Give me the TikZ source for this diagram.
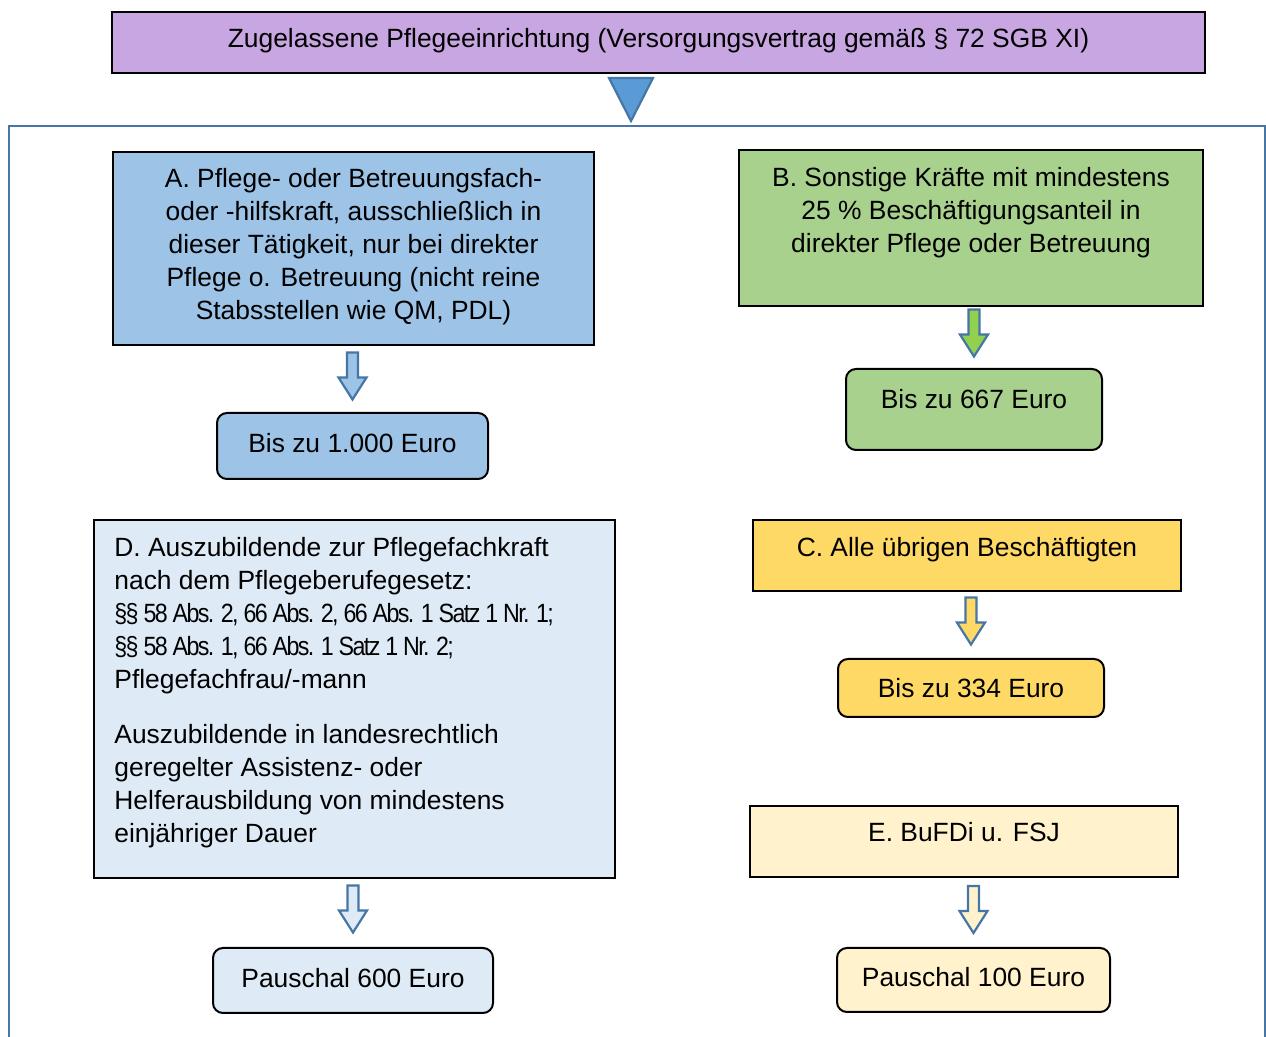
\documentclass[tikz,border=0pt]{standalone}
\usepackage{fontspec}
\setmainfont{Liberation Sans}
\usepackage{tikz}
\usetikzlibrary{shapes, arrows.meta, positioning, calc}

\definecolor{lila}{RGB}{200,166,226}
\definecolor{rahmenblau}{RGB}{70,118,166}
\definecolor{hellblau}{RGB}{157,195,230}
\definecolor{gruen}{RGB}{169,209,142}
\definecolor{pfeilgruen}{RGB}{146,208,80}
\definecolor{gelb}{RGB}{255,217,102}
\definecolor{creme}{RGB}{255,242,204}
\definecolor{eisblau}{RGB}{222,235,247}
\definecolor{dreieckblau}{RGB}{91,155,213}
\newcommand{\knapp}{\addfontfeature{FakeStretch=0.88, LetterSpace=-6}}

\begin{document}
\begin{tikzpicture}[x=0.5pt, y=-0.5pt,
    every node/.style={font=\fontsize{13.2}{16.5}\selectfont},
    box/.style={draw=black, line width=1pt, inner sep=0pt},
    betrag/.style={box, rounded corners=5pt},
    zeile/.style={text height=9.45pt, text depth=#1},
    zeile/.default=0pt,
    pfeil/.style={draw=rahmenblau, line width=1.1pt, line join=miter},
    pics/runter/.style={code={
        \draw[pfeil, fill=#1] (-5.5,-23.5) -- (5.5,-23.5) -- (5.5,1.5) -- (14,1.5)
            -- (0,23.5) -- (-14,1.5) -- (-5.5,1.5) -- cycle;}}]
    \useasboundingbox (0,0) rectangle (1266,1037);

    % Kopf
    \node[box, fill=lila, minimum width=546.5pt, minimum height=30.5pt, zeile=4.5pt] (traeger) at (658.5,42.5)
        {Zugelassene Pflegeeinrichtung (Versorgungsvertrag gemäß § 72 SGB XI)};
    \draw[pfeil, fill=dreieckblau] ($(traeger.south)+(-49.5,4)$) -- ++(44,0)
        -- ($(traeger.south)+(-27.5,47)$) -- cycle;
    \draw[rahmenblau, line width=1.4pt] (9,1045) -- (9,126) -- (1265,126) -- (1265,1045);

    % A
    \node[box, fill=hellblau, minimum width=240.5pt, minimum height=96.5pt] (a) at (353.5,248.5) {};
    \node[align=center, anchor=north, inner sep=0pt] (atext) at ($(a.north)+(0,17)$)
        {A. Pflege- oder Betreuungsfach-\\oder -hilfskraft, ausschließlich in\\dieser Tätigkeit, nur bei direkter\\Pflege o. Betreuung (nicht reine\\Stabsstellen wie QM, PDL)};
    \node[betrag, fill=hellblau, minimum width=135.5pt, minimum height=33pt, zeile=3pt] (betraga) at (352.5,446) {Bis zu 1.000 Euro};
    \pic at ($(betraga.north)+(0,-36)$) {runter=hellblau};

    % B
    \node[box, fill=gruen, minimum width=232pt, minimum height=78pt] (b) at (971,228) {};
    \node[align=center, anchor=north, inner sep=0pt] (btext) at ($(b.north)+(0,17.5)$)
        {B. Sonstige Kräfte mit mindestens\\25 \% Beschäftigungsanteil in\\direkter Pflege oder Betreuung};
    \node[betrag, fill=gruen, minimum width=128pt, minimum height=40.5pt, zeile=10.5pt] (betragb) at (974,409.5) {Bis zu 667 Euro};
    \pic at ($(betragb.north)+(0,-35)$) {runter=pfeilgruen};

    % C
    \node[box, fill=gelb, minimum width=214pt, minimum height=35.5pt, zeile=8.5pt] (c) at (967,555.5) {C. Alle übrigen Beschäftigten};
    \node[betrag, fill=gelb, minimum width=133pt, minimum height=29pt, zeile] (betragc) at (971,688) {Bis zu 334 Euro};
    \pic at ($(betragc.north)+(0,-37)$) {runter=gelb};

    % D
    \node[box, fill=eisblau, minimum width=260.5pt, minimum height=179pt] (d) at (354.5,699) {};
    \node[align=left, anchor=north west, inner sep=0pt] (dtext) at ($(d.north west)+(21,17.5)$)
        {D. Auszubildende zur Pflegefachkraft\\nach dem Pflegeberufegesetz:\\{\knapp §§ 58 Abs. 2, 66 Abs. 2, 66 Abs. 1 Satz 1 Nr. 1;}\\{\knapp §§ 58 Abs. 1, 66 Abs. 1 Satz 1 Nr. 2;}\\Pflegefachfrau/-mann\\[11pt]Auszubildende in landesrechtlich\\geregelter Assistenz- oder\\Helferausbildung von mindestens\\einjähriger Dauer};
    \node[betrag, fill=eisblau, minimum width=140pt, minimum height=32.5pt, zeile=2.5pt] (betragd) at (353,980.5) {Pauschal 600 Euro};
    \pic at ($(betragd.north)+(0,-38)$) {runter=eisblau};

    % E
    \node[box, fill=creme, minimum width=214pt, minimum height=35.5pt, zeile=9.5pt] (e) at (964,841.5) {E. BuFDi u. FSJ};
    \node[betrag, fill=creme, minimum width=136.5pt, minimum height=32pt, zeile=3pt] (betrage) at (973.5,980) {Pauschal 100 Euro};
    \pic at ($(betrage.north)+(0,-37.5)$) {runter=creme};
\end{tikzpicture}
\end{document}
